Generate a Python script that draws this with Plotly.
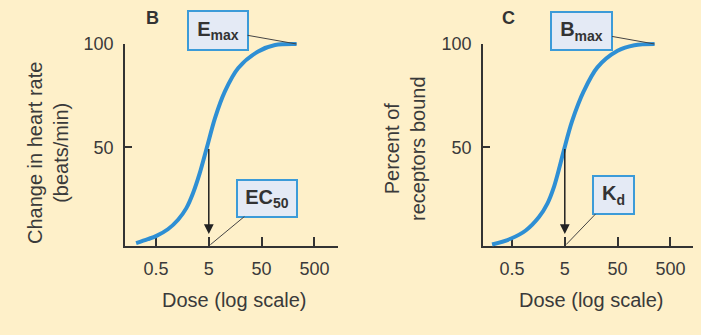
import math
import plotly.graph_objects as go

W, H = 701, 335

# ---------------- data ----------------
dose_b = [0.21, 0.35, 0.51, 0.84, 1.31, 1.88, 2.51, 3.37, 4.6, 6.55, 10.1, 18.1, 43, 90, 230]
resp_b = [3.8, 5.7, 7.3, 10.5, 15.1, 20.7, 27.9, 37.6, 50, 64.2, 77.1, 88.4, 96.4, 99.5, 100]
dose_c = [0.21, 0.47, 0.91, 1.62, 2.34, 3.12, 4.0, 4.83, 6.87, 11.5, 20.7, 50, 104, 251]
resp_c = [3.1, 5.9, 9.9, 16.4, 22.9, 31.0, 40.8, 48.9, 62.7, 77.3, 88.7, 96.7, 99.4, 100]

x_tick_vals = [0.5, 5, 50, 500]
x_tick_text = ["0.5", "5", "50", "500"]
y_tick_vals = [50, 100]
y_tick_text = ["50", "100"]

ec50 = 5      # dose giving half-maximal effect
kd = 5        # dose giving half-maximal binding
half = 50

# ---------------- style ----------------
BG = "#FEF0C9"
CURVE = "#2E8FD4"
AXC = "#333333"
TXT = "#3a3a3a"
BOXFILL = "#E4EAF5"
BOXLINE = "#3C9BD8"
FONT = "Liberation Sans"

panels = [
    dict(x0=125, x1=338, top=44, bot=246, xr=[-0.888, 3.146], yr=[2.4, 100],
         dose=dose_b, resp=resp_b, half_dose=ec50, letter="B", letter_x=152,
         ytitle="Change in heart rate<br>(beats/min)", ytitle_x=48, ytitle_y=153,
         xtitle_x=234,
         top_label="E<sub>max</sub>", top_box=(56, 35), top_off=(-79, -14),
         mid_label="EC<sub>50</sub>", mid_box=(56, 33), mid_off=(58, -48)),
    dict(x0=483, x1=693, top=44, bot=246, xr=[-0.850, 3.127], yr=[2.4, 100],
         dose=dose_c, resp=resp_c, half_dose=kd, letter="C", letter_x=508,
         ytitle="Percent of<br>receptors bound", ytitle_x=405, ytitle_y=148,
         xtitle_x=591,
         top_label="B<sub>max</sub>", top_box=(57, 34), top_off=(-73, -13),
         mid_label="K<sub>d</sub>", mid_box=(37, 34), mid_off=(49, -51)),
]

PAD = 8
fig = go.Figure()
layout = dict(
    width=W, height=H, autosize=False,
    margin=dict(l=0, r=0, t=0, b=0, pad=0, autoexpand=False),
    paper_bgcolor=BG, plot_bgcolor="rgba(0,0,0,0)",
    showlegend=False,
    font=dict(family=FONT, color=TXT),
)
annotations = []

for i, p in enumerate(panels):
    vis = i + 1            # visible axes: 1, 2
    crv = i + 3            # curve axes: 3, 4 (slightly larger, same scale)
    xs = "" if vis == 1 else str(vis)
    dom_x = [p["x0"] / W, p["x1"] / W]
    dom_y = [1 - p["bot"] / H, 1 - p["top"] / H]

    layout["xaxis" + xs] = dict(
        type="log", domain=dom_x, range=p["xr"], anchor="y" + xs,
        tickvals=x_tick_vals, ticktext=x_tick_text,
        ticks="inside", ticklen=9, tickwidth=1.5, tickcolor=AXC,
        showline=True, linecolor=AXC, linewidth=1.5,
        showgrid=False, zeroline=False, ticklabelstandoff=6,
        tickfont=dict(size=18, color=TXT, family=FONT), fixedrange=True,
    )
    layout["yaxis" + xs] = dict(
        domain=dom_y, range=p["yr"], anchor="x" + xs,
        tickvals=y_tick_vals, ticktext=y_tick_text,
        ticks="inside", ticklen=7, tickwidth=1.5, tickcolor=AXC,
        showline=True, linecolor=AXC, linewidth=1.5,
        showgrid=False, zeroline=False, ticklabelstandoff=6,
        tickfont=dict(size=18, color=TXT, family=FONT), fixedrange=True,
    )

    # extended invisible axes so the thick curve is not clipped at the edges
    xper = (p["xr"][1] - p["xr"][0]) / (p["x1"] - p["x0"])
    yper = (p["yr"][1] - p["yr"][0]) / (p["bot"] - p["top"])
    layout["xaxis" + str(crv)] = dict(
        type="log", visible=False, anchor="y" + str(crv),
        domain=[(p["x0"] - PAD) / W, (p["x1"] + PAD) / W],
        range=[p["xr"][0] - PAD * xper, p["xr"][1] + PAD * xper], fixedrange=True,
    )
    layout["yaxis" + str(crv)] = dict(
        visible=False, anchor="x" + str(crv),
        domain=[1 - (p["bot"] + PAD) / H, 1 - (p["top"] - PAD) / H],
        range=[p["yr"][0] - PAD * yper, p["yr"][1] + PAD * yper], fixedrange=True,
    )

    fig.add_trace(go.Scatter(
        x=p["dose"], y=p["resp"], mode="lines",
        line=dict(color=CURVE, width=4, shape="spline", smoothing=0.9),
        xaxis="x" + str(crv), yaxis="y" + str(crv), hoverinfo="skip",
    ))

    xr_ = "x" + xs
    yr_ = "y" + xs
    lx = math.log10(p["half_dose"])

    # vertical arrow from the 50% point down to the dose axis
    annotations.append(dict(
        xref=xr_, yref=yr_, x=lx, y=p["yr"][0],
        axref=xr_, ayref=yr_, ax=lx, ay=half,
        text="", showarrow=True, arrowhead=2, arrowsize=1.3,
        arrowwidth=1.5, arrowcolor="#222222", standoff=12,
    ))

    # maximum label box
    annotations.append(dict(
        xref=xr_, yref=yr_, x=math.log10(p["dose"][-1]), y=p["resp"][-1],
        ax=p["top_off"][0], ay=p["top_off"][1],
        text=p["top_label"], showarrow=True, arrowhead=0, arrowwidth=1,
        arrowcolor="#444444",
        bgcolor=BOXFILL, bordercolor=BOXLINE, borderwidth=2, borderpad=1,
        width=p["top_box"][0], height=p["top_box"][1],
        font=dict(size=20, color="#333333", family=FONT, weight="bold"),
    ))

    # half-maximal dose label box
    annotations.append(dict(
        xref=xr_, yref=yr_, x=lx, y=p["yr"][0],
        ax=p["mid_off"][0], ay=p["mid_off"][1],
        text=p["mid_label"], showarrow=True, arrowhead=0, arrowwidth=1,
        arrowcolor="#444444", standoff=2,
        bgcolor=BOXFILL, bordercolor=BOXLINE, borderwidth=2, borderpad=1,
        width=p["mid_box"][0], height=p["mid_box"][1],
        font=dict(size=20, color="#333333", family=FONT, weight="bold"),
    ))

    # panel letter
    annotations.append(dict(
        xref="paper", yref="paper", x=p["letter_x"] / W, y=1 - 18 / H,
        xanchor="center", yanchor="middle", showarrow=False,
        text=p["letter"],
        font=dict(size=18, color="#333333", family=FONT, weight="bold"),
    ))

    # axis titles
    annotations.append(dict(
        xref="paper", yref="paper", x=p["xtitle_x"] / W, y=1 - 300 / H,
        xanchor="center", yanchor="middle", showarrow=False,
        text="Dose (log scale)", font=dict(size=20, color=TXT, family=FONT),
    ))
    annotations.append(dict(
        xref="paper", yref="paper", x=p["ytitle_x"] / W, y=1 - p["ytitle_y"] / H,
        xanchor="center", yanchor="middle", showarrow=False, textangle=-90,
        text=p["ytitle"], font=dict(size=20, color=TXT, family=FONT),
    ))

layout["annotations"] = annotations
fig.update_layout(**layout)

post = (
    "document.documentElement.style.margin='0';"
    "document.documentElement.style.overflow='hidden';"
    "document.body.style.margin='0';document.body.style.padding='0';"
    "document.body.style.overflow='hidden';"
    "var gd=document.getElementById('{plot_id}');"
    "gd.style.position='fixed';gd.style.top='0px';gd.style.left='0px';"
)
fig.write_html(
    "out.html",
    config={"displayModeBar": False},
    post_script=post,
)
